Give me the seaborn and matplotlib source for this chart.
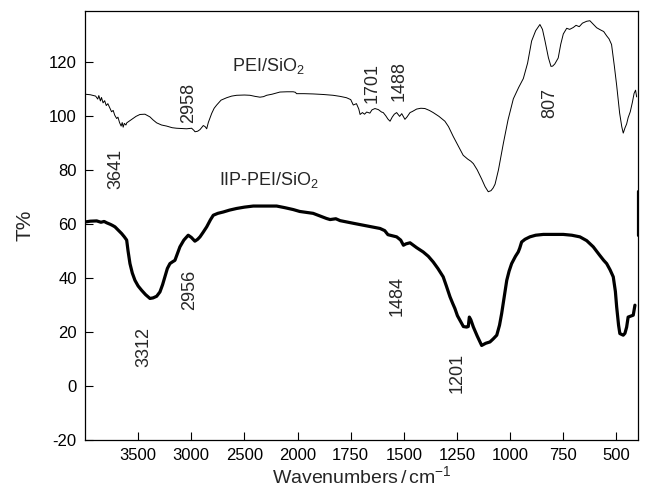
import numpy as np
import pandas as pd
import matplotlib
matplotlib.use("Agg")
import matplotlib.pyplot as plt
import seaborn as sns

# ---------------- data ----------------
pei_wn = [4000, 3950, 3900, 3880, 3870, 3855, 3845, 3830, 3815, 3800, 3785, 3765, 3750, 3735,
          3720, 3702, 3690, 3675, 3660, 3650, 3641, 3630, 3615, 3607, 3585, 3560, 3520, 3483,
          3436, 3389, 3360, 3326, 3280, 3232, 3180, 3138, 3090, 3044, 2997, 2975, 2965, 2940,
          2918, 2900, 2887, 2870, 2855, 2840, 2808, 2785, 2761, 2720, 2667, 2620, 2573, 2500,
          2448, 2400, 2354, 2320, 2291, 2240, 2166, 2100, 2041, 2020, 2010, 1970, 1927, 1880,
          1833, 1800, 1770, 1750, 1738, 1723, 1712, 1706, 1695, 1685, 1675, 1660, 1650, 1636,
          1620, 1605, 1597, 1585, 1575, 1565, 1555, 1545, 1534, 1520, 1510, 1495, 1485, 1471,
          1460, 1440, 1420, 1401, 1380, 1362, 1335, 1307, 1290, 1268, 1245, 1221, 1200, 1185,
          1173, 1155, 1134, 1118, 1103, 1090, 1080, 1071, 1055, 1032, 1010, 985, 960, 938,
          918, 899, 880, 860, 848, 836, 820, 808, 800, 790, 774, 762, 750, 734, 720, 703, 690,
          675, 660, 640, 625, 610, 593, 575, 560, 546, 535, 523, 510, 499, 485, 475, 468, 460,
          452, 445, 435, 425, 417, 410, 405]
pei_t = [108.0, 107.8, 107.3, 106.2, 107.5, 105.5, 106.8, 104.8, 105.6, 103.8, 104.5, 102.8,
         101.5, 102.0, 100.2, 99.0, 99.5, 97.5, 96.2, 97.5, 95.8, 97.2, 96.6, 97.4, 98.0, 98.7,
         99.8, 100.5, 100.6, 99.6, 98.5, 97.4, 96.6, 96.2, 95.6, 95.4, 95.3, 95.2, 95.4, 94.6,
         94.1, 94.3, 94.9, 95.8, 96.4, 96.0, 95.2, 97.5, 100.9, 102.8, 104.0, 105.8, 106.7,
         107.3, 107.6, 107.7, 107.6, 107.2, 106.9, 107.1, 107.6, 108.0, 108.8, 108.9, 108.9,
         108.7, 108.2, 108.2, 108.1, 107.9, 107.6, 107.2, 106.7, 106.0, 104.0, 104.5, 102.5,
         100.5, 101.2, 100.6, 101.4, 101.0, 102.2, 102.7, 102.3, 101.4, 101.2, 100.0, 98.8,
         98.0, 99.5, 100.6, 101.2, 99.8, 100.8, 98.7, 99.6, 101.2, 101.6, 102.5, 102.8, 102.7,
         102.0, 101.2, 99.8, 98.0, 96.0, 92.4, 89.0, 85.4, 84.0, 83.2, 82.3, 80.0, 76.6, 73.8,
         71.9, 72.3, 73.3, 74.7, 80.0, 89.8, 98.5, 106.3, 110.5, 113.8, 119.5, 127.7, 131.5,
         133.8, 132.0, 127.7, 121.5, 118.3, 118.4, 119.2, 121.4, 126.5, 130.3, 132.4, 132.0,
         132.7, 133.5, 133.0, 134.3, 135.0, 135.2, 134.0, 132.6, 131.8, 131.2, 129.6, 128.5,
         126.4, 118.5, 111.3, 101.0, 96.0, 93.6, 95.5, 97.0, 99.3, 101.5, 105.0, 108.3, 109.5,
         107.0]

iip_wn = [4000, 3950, 3890, 3850, 3820, 3796, 3760, 3740, 3718, 3690, 3670, 3655, 3630, 3608,
          3595, 3577, 3555, 3530, 3500, 3467, 3430, 3389, 3360, 3326, 3295, 3270, 3248, 3225,
          3201, 3175, 3154, 3130, 3107, 3070, 3029, 3000, 2966, 2940, 2918, 2890, 2855, 2820,
          2793, 2750, 2699, 2640, 2574, 2500, 2417, 2300, 2197, 2120, 2041, 1990, 1927, 1890,
          1864, 1847, 1820, 1800, 1769, 1730, 1691, 1650, 1612, 1590, 1575, 1565, 1550, 1534,
          1515, 1502, 1490, 1471, 1440, 1409, 1385, 1362, 1340, 1315, 1300, 1283, 1270, 1260,
          1248, 1236, 1220, 1205, 1197, 1192, 1185, 1173, 1155, 1134, 1115, 1095, 1080, 1063,
          1050, 1040, 1028, 1016, 1005, 993, 975, 962, 955, 946, 930, 907, 880, 844, 800, 750,
          710, 672, 640, 609, 580, 560, 546, 530, 515, 505, 499, 490, 484, 468, 460, 452, 445,
          435, 421, 413]
iip_t = [60.7, 61.0, 61.1, 60.6, 60.9, 60.4, 59.8, 59.4, 58.9, 57.8, 57.0, 56.4, 55.2, 54.0,
         50.0, 45.3, 41.8, 39.1, 37.0, 35.4, 33.8, 32.4, 32.6, 33.2, 34.8, 37.5, 40.4, 43.5,
         45.3, 46.0, 46.5, 49.0, 51.5, 54.0, 55.8, 55.0, 53.6, 54.3, 55.2, 56.8, 58.9, 61.5,
         63.2, 63.9, 64.4, 65.1, 65.7, 66.2, 66.6, 66.6, 66.6, 66.0, 65.3, 64.6, 63.9, 62.8,
         62.0, 61.6, 61.9, 61.2, 60.7, 60.1, 59.5, 58.9, 58.3, 57.5, 56.0, 55.8, 55.5, 55.2,
         54.0, 52.1, 52.6, 53.0, 51.2, 49.6, 48.0, 45.9, 43.5, 40.4, 37.0, 33.0, 30.5, 28.7,
         26.0, 24.3, 22.0, 21.8, 22.0, 25.5, 24.5, 21.8, 18.5, 15.0, 15.8, 16.3, 17.4, 18.8,
         22.5, 26.8, 33.0, 39.1, 42.5, 45.3, 48.0, 49.6, 51.0, 53.3, 54.3, 55.2, 55.8, 56.1,
         56.1, 56.1, 55.8, 55.2, 53.8, 51.5, 48.5, 46.5, 45.3, 43.0, 40.4, 35.0, 29.3, 22.5,
         19.4, 18.8, 19.5, 21.8, 25.5, 25.8, 26.2, 29.9]

edge_wn = [400, 400]
edge_t = [56, 72]

tick_values = [3500, 3000, 2500, 2000, 1750, 1500, 1250, 1000, 750, 500]
ytick_values = [-20, 0, 20, 40, 60, 80, 100, 120]

peak_labels = ["3641", "2958", "1701", "1488", "807", "3312", "2956", "1484", "1201"]
peak_x = [3713, 3028, 1651, 1522, 816, 3443, 3012, 1530, 1248]
peak_y = [80.3, 104.7, 112.3, 112.9, 104.9, 14.4, 35.4, 33.3, 4.9]

series_names = ["PEI/SiO$_2$", "IIP-PEI/SiO$_2$"]
series_x = [2620, 2736]
series_y = [116.6, 74.3]

# ---------------- style ----------------
sns.set_style("ticks")
plt.rcParams["font.family"] = ["Liberation Sans", "DejaVu Sans"]
plt.rcParams["mathtext.fontset"] = "custom"
plt.rcParams["mathtext.rm"] = "Liberation Sans"
plt.rcParams["mathtext.it"] = "Liberation Sans:italic"
plt.rcParams["mathtext.bf"] = "Liberation Sans:bold"

fig = plt.figure(figsize=(6.47, 4.92), dpi=100)
ax = fig.add_axes([85 / 647, 52 / 492, 552.7 / 647, 429 / 492])

pei_df = pd.DataFrame({"wn": pei_wn, "T": pei_t})
iip_df = pd.DataFrame({"wn": iip_wn, "T": iip_t})
edge_df = pd.DataFrame({"wn": edge_wn, "T": edge_t})

sns.lineplot(data=pei_df, x="wn", y="T", ax=ax, color="black", linewidth=0.7,
             estimator=None, sort=False)
sns.lineplot(data=iip_df, x="wn", y="T", ax=ax, color="black", linewidth=2.3,
             estimator=None, sort=False)
sns.lineplot(data=edge_df, x="wn", y="T", ax=ax, color="black", linewidth=2.3,
             estimator=None, sort=False)


def fwd(x):
    x = np.asarray(x, dtype=float)
    return np.where(x <= 2000, x, 2000 + (x - 2000) / 2.0)


def inv(t):
    t = np.asarray(t, dtype=float)
    return np.where(t <= 2000, t, 2000 + (t - 2000) * 2.0)


ax.set_xscale("function", functions=(fwd, inv))
ax.set_xlim(4000, 400)
ax.set_ylim(-20, 138.8)
ax.set_xticks(tick_values)
ax.set_xticklabels([str(v) for v in tick_values])
ax.set_yticks(ytick_values)
ax.set_yticklabels([str(v) for v in ytick_values])
ax.minorticks_off()

ax.tick_params(axis="both", direction="in", length=6, width=0.8, labelsize=12,
               colors="black", pad=6)
for s in ax.spines.values():
    s.set_visible(True)
    s.set_color("black")
    s.set_linewidth(0.9)

ax.set_xlabel("Wavenumbers$\\,$/$\\,$cm$^{-1}$", fontsize=14, labelpad=1)
ax.set_ylabel("T%", fontsize=15, labelpad=10)

for lab, x, y in zip(peak_labels, peak_x, peak_y):
    ax.text(x, y, lab, rotation=90, ha="center", va="center", fontsize=13)
for lab, x, y in zip(series_names, series_x, series_y):
    ax.text(x, y, lab, ha="left", va="baseline", fontsize=13)

fig.savefig("out.png", dpi=100)
